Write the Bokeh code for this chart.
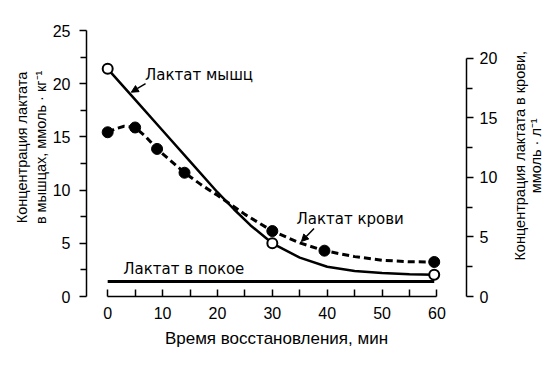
import math
from bokeh.plotting import figure
from bokeh.layouts import row
from bokeh.models import Range1d, LinearAxis, FixedTicker, Label, Arrow, NormalHead
from bokeh.embed import file_html
from bokeh.resources import INLINE

# ---- data ----
time_ticks = [0, 10, 20, 30, 40, 50, 60]
time_minor = [5, 15, 25, 35, 45, 55]
muscle_ticks = [0, 5, 10, 15, 20, 25]
muscle_minor = [2.5, 7.5, 12.5, 17.5, 22.5]
blood_ticks = [0, 5, 10, 15, 20]
blood_minor = [2.5, 7.5, 12.5, 17.5]

# muscle lactate (mmol/kg), measured points (open circles)
muscle_t = [0, 30, 59.5]
muscle_v = [21.4, 5.0, 2.05]
# muscle lactate curve
muscle_curve_t = [0, 5, 10, 15, 20, 23, 26, 30, 35, 40, 45, 50, 55, 59.5]
muscle_curve_v = [21.4, 18.5, 15.6, 12.7, 9.8, 8.2, 6.7, 5.0, 3.65, 2.8, 2.4, 2.2, 2.08, 2.05]

# blood lactate (mmol/l), measured points (filled circles)
blood_t = [0, 5, 9, 14, 30, 39.5, 59.5]
blood_v = [13.8, 14.2, 12.4, 10.4, 5.5, 3.85, 2.9]
# blood lactate curve
blood_curve_t = [0, 1.5, 3, 5, 7, 9, 11.5, 14, 17, 20, 25, 30, 35, 39.5, 45, 50, 55, 59.5]
blood_curve_v = [13.8, 14.1, 14.3, 14.2, 13.4, 12.4, 11.4, 10.4, 9.4, 8.5, 6.9, 5.5, 4.5, 3.85, 3.35, 3.05, 2.92, 2.9]

# resting lactate level
rest_t = [0, 59.5]
rest_v = [1.4, 1.4]

FONT = "Liberation Sans"
ANN_FONT = "DejaVu Sans"
NB = "\u00a0"

p = figure(width=500, height=361, output_backend="svg", toolbar_location=None,
           x_range=Range1d(-3.86, 65.38), y_range=Range1d(0, 25),
           x_axis_type=None, y_axis_type=None,
           min_border_left=86, min_border_right=32, min_border_top=30, min_border_bottom=65)
p.outline_line_color = None
p.extra_y_ranges = {"blood": Range1d(0, 22.35)}

def style(ax):
    ax.axis_line_width = 1.5
    ax.major_tick_line_width = 1.5
    ax.minor_tick_line_width = 1.5
    ax.major_label_text_font = FONT
    ax.major_label_text_font_size = "16px"
    ax.major_label_text_color = "black"
    ax.axis_label_text_font = FONT
    ax.axis_label_text_font_size = "14.5px"
    ax.axis_label_text_font_style = "normal"
    ax.axis_label_text_color = "black"

xaxis = LinearAxis(ticker=FixedTicker(ticks=time_ticks, minor_ticks=time_minor),
                   bounds=(0, 60), axis_label="Время восстановления, мин",
                   major_tick_in=7, major_tick_out=0, minor_tick_in=7, minor_tick_out=0,
                   major_label_standoff=10, axis_label_standoff=7)
style(xaxis)
xaxis.axis_label_text_font_size = "17px"
p.add_layout(xaxis, "below")

left_title = NB * 8 + "Концентрация лактата\n" + NB * 8 + "в мышцах, ммоль · кг⁻¹"
yleft = LinearAxis(ticker=FixedTicker(ticks=muscle_ticks, minor_ticks=muscle_minor),
                   bounds=(0, 25), axis_label=left_title,
                   major_tick_in=0, major_tick_out=7, minor_tick_in=0, minor_tick_out=6,
                   major_label_standoff=9, axis_label_standoff=1)
style(yleft)
p.add_layout(yleft, "left")

yright = LinearAxis(y_range_name="blood",
                    ticker=FixedTicker(ticks=blood_ticks, minor_ticks=blood_minor),
                    bounds=(0, 20),
                    major_tick_in=0, major_tick_out=7, minor_tick_in=0, minor_tick_out=6,
                    major_label_standoff=6)
style(yright)
p.add_layout(yright, "right")

# rest line
p.line(rest_t, rest_v, line_width=3, line_color="black")
# muscle
p.line(muscle_curve_t, muscle_curve_v, line_width=2.5, line_color="black")
# blood
p.line(blood_curve_t, blood_curve_v, y_range_name="blood", line_width=3,
       line_color="black", line_dash="7 4")
p.scatter(blood_t, blood_v, y_range_name="blood", size=11, fill_color="black", line_color="black")
p.scatter(muscle_t, muscle_v, size=10, fill_color="white", line_color="black", line_width=2)

def label(fig, x, y, text, font=ANN_FONT, size="15px", angle=0.0, align="left"):
    fig.add_layout(Label(x=x, y=y, text=text, angle=angle, text_baseline="middle",
                         text_align=align, text_font=font, text_font_size=size,
                         text_color="black"))

label(p, 6.8, 20.8, "Лактат мышц")
label(p, 34.4, 7.33, "Лактат крови")
label(p, 2.85, 2.63, "Лактат в покое")

p.add_layout(Arrow(end=NormalHead(size=7, fill_color="black", line_color="black"),
                   x_start=6.9, y_start=20.0, x_end=4.3, y_end=19.2, line_width=1.5))
p.add_layout(Arrow(end=NormalHead(size=7, fill_color="black", line_color="black"),
                   x_start=37.6, y_start=6.4, x_end=35.3, y_end=5.17, line_width=1.5))

# side panel holding the right axis title (reads bottom-to-top)
side = figure(width=45, height=361, output_backend="svg", toolbar_location=None,
              x_range=Range1d(0, 45), y_range=Range1d(0, 361),
              x_axis_type=None, y_axis_type=None, min_border=0)
side.outline_line_color = None
label(side, 19, 191, "Концентрация лактата в крови,", font=FONT, size="14.5px",
      angle=math.pi / 2, align="center")
label(side, 35, 191, "ммоль · л⁻¹", font=FONT, size="14.5px",
      angle=math.pi / 2, align="center")

layout = row(p, side, spacing=0)
open("out.html", "w").write(file_html(layout, INLINE))
